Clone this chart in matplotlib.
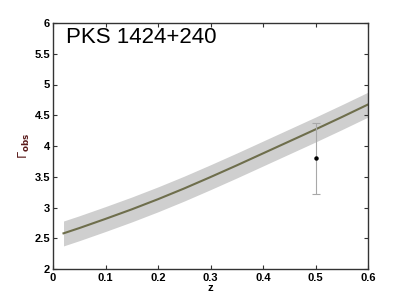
import numpy as np
import matplotlib.pyplot as plt

# model curve
z_model = [0.02, 0.05, 0.1, 0.15, 0.2, 0.25, 0.3, 0.35, 0.4, 0.45, 0.5, 0.55, 0.6]
gamma_model = [2.58, 2.665, 2.815, 2.97, 3.135, 3.31, 3.495, 3.685, 3.88, 4.075, 4.27, 4.47, 4.675]
band_lo = [2.375, 2.46, 2.61, 2.765, 2.93, 3.105, 3.29, 3.48, 3.675, 3.87, 4.065, 4.265, 4.47]
band_hi = [2.78, 2.865, 3.015, 3.17, 3.335, 3.51, 3.695, 3.885, 4.08, 4.275, 4.47, 4.67, 4.875]

# measured point
z_obs = [0.5]
gamma_obs = [3.80]
err_lo = [0.58]
err_hi = [0.58]

plt.rcParams['font.family'] = ['Liberation Sans', 'DejaVu Sans']

fig = plt.figure(figsize=(4.07, 3.02), dpi=100)
ax = fig.add_axes([53/407, 1 - 269/302, 315/407, 246/302])

ax.fill_between(z_model, band_lo, band_hi, color='#cfcfcf', linewidth=0)
ax.plot(z_model, gamma_model, color='#6e6e4c', linewidth=1.5)
ax.errorbar(z_obs, gamma_obs, yerr=[err_lo, err_hi], fmt='none', ecolor='#a8a8a8',
            elinewidth=0.8, capsize=3, capthick=0.8)
ax.plot(z_obs, gamma_obs, 'o', color='black', markersize=2.2)

ax.set_xlim(0, 0.6)
ax.set_ylim(2, 6)
ax.set_xticks([0, 0.1, 0.2, 0.3, 0.4, 0.5, 0.6])
ax.set_xticklabels(['0', '0.1', '0.2', '0.3', '0.4', '0.5', '0.6'])
ax.set_yticks([2, 2.5, 3, 3.5, 4, 4.5, 5, 5.5, 6])
ax.set_yticklabels(['2', '2.5', '3', '3.5', '4', '4.5', '5', '5.5', '6'])
ax.tick_params(direction='in', top=True, right=True, length=3, width=0.8,
               labelsize=8, colors='#333333', labelcolor='black')
ax.tick_params(axis='x', pad=3)
ax.tick_params(axis='y', pad=2)
for lab in ax.get_xticklabels() + ax.get_yticklabels():
    lab.set_fontweight('bold')
for s in ax.spines.values():
    s.set_color('#333333')
    s.set_linewidth(1.0)

ax.set_xlabel('z', fontsize=8, fontweight='bold', labelpad=0)
ax.set_ylabel(r'$\Gamma_{\mathbf{obs}}$', fontsize=9, color='#5a1a1a', labelpad=2)
ax.text(0.04, 0.985, 'PKS 1424+240', transform=ax.transAxes, fontsize=16,
        va='top', ha='left')

fig.savefig('out.png', dpi=100)
